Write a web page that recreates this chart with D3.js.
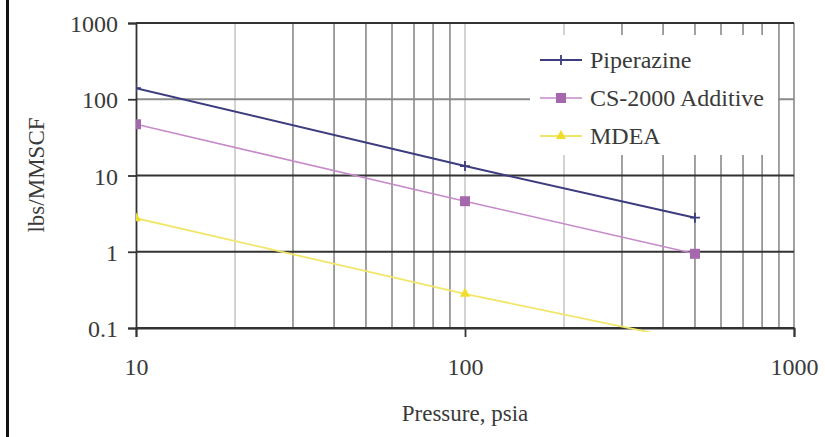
<!DOCTYPE html>
<html>
<head>
<meta charset="utf-8">
<script src="https://cdnjs.cloudflare.com/ajax/libs/d3/7.8.5/d3.min.js"></script>
<style>
  html, body { margin: 0; padding: 0; background: #fff; }
</style>
</head>
<body>
<svg id="chart" width="825" height="437"></svg>
<script>
// data
var pressure = [10, 100, 500];
var piperazine = [140, 13.3, 2.8];
var cs2000 = [47, 4.6, 0.94];
var mdea = [2.75, 0.28, 0.066];

var seriesNames = ['Piperazine', 'CS-2000 Additive', 'MDEA'];
var yTicks = [0.1, 1, 10, 100, 1000];
var xTicks = [10, 100, 1000];

var FONT = '"Liberation Serif", "Times New Roman", serif';
var TEXT = '#3a3a3a';

var svg = d3.select('#chart');

var x = d3.scaleLog().domain([10, 1000]).range([136, 794]);
var y = d3.scaleLog().domain([0.1, 1000]).range([328, 23]);

// frame line on the left of the page
svg.append('rect')
    .attr('x', 6).attr('y', 0)
    .attr('width', 3).attr('height', 437)
    .attr('fill', '#111');

var grid = svg.append('g').attr('class', 'grid');

// minor vertical grid (some came out faint in the scan)
var faint = [20, 100, 200];
var vTicks = x.ticks().filter(function(d){ return d > 10; });
grid.selectAll('line.v')
    .data(vTicks)
    .enter().append('line')
    .attr('class', 'v')
    .attr('x1', function(d){ return x(d); })
    .attr('x2', function(d){ return x(d); })
    .attr('y1', y(1000))
    .attr('y2', y(0.1))
    .style('stroke', function(d){ return faint.indexOf(d) >= 0 ? '#c8c8c8' : '#8a8a8a'; })
    .style('stroke-width', 1.6);

// horizontal grid at decades
grid.selectAll('line.h')
    .data(yTicks)
    .enter().append('line')
    .attr('class', 'h')
    .attr('x1', x(10))
    .attr('x2', x(1000))
    .attr('y1', function(d){ return y(d); })
    .attr('y2', function(d){ return y(d); })
    .style('stroke', function(d){ return d === 100 ? '#8a8a8a' : '#333'; })
    .style('stroke-width', 1.8);

// axes
var yAxis = d3.axisLeft(y)
    .tickValues(yTicks)
    .tickFormat(function(d){ return String(d); })
    .tickSize(8)
    .tickPadding(10);
var gy = svg.append('g')
    .attr('transform', 'translate(' + x(10) + ',0)')
    .call(yAxis);

var xAxis = d3.axisBottom(x)
    .tickValues(xTicks)
    .tickFormat(function(d){ return String(d); })
    .tickSize(9)
    .tickPadding(21);
var gx = svg.append('g')
    .attr('transform', 'translate(0,' + y(0.1) + ')')
    .call(xAxis);

[gx, gy].forEach(function(g){
    g.attr('font-family', null).attr('font-size', null);
    g.select('.domain').style('stroke', '#333').style('stroke-width', 1.8);
    g.selectAll('.tick line').style('stroke', '#333').style('stroke-width', 1.8);
    g.selectAll('.tick text')
        .style('font-family', FONT)
        .style('font-size', '24px')
        .style('fill', TEXT);
});
gy.selectAll('.tick text').attr('dy', '0.36em');

// axis titles
svg.append('text')
    .attr('x', x(100))
    .attr('y', 421)
    .attr('text-anchor', 'middle')
    .style('font-family', FONT)
    .style('font-size', '23px')
    .style('fill', TEXT)
    .text('Pressure, psia');

svg.append('text')
    .attr('transform', 'translate(44,' + 175 + ') rotate(-90)')
    .attr('text-anchor', 'middle')
    .style('font-family', FONT)
    .style('font-size', '23px')
    .style('fill', TEXT)
    .text('lbs/MMSCF');

// series
var series = [
    { name: seriesNames[0], values: piperazine, line: '#3c3c7e', width: 2, marker: 'cross', fill: '#3c3c7e' },
    { name: seriesNames[1], values: cs2000, line: '#c78acb', width: 1.6, marker: 'square', fill: '#a668ad' },
    { name: seriesNames[2], values: mdea, line: '#f2e66a', width: 1.8, marker: 'triangle', fill: '#f0dc2a' }
];

svg.append('clipPath').attr('id', 'plotclip')
    .append('rect')
    .attr('x', x(10)).attr('y', y(1000))
    .attr('width', x(1000) - x(10))
    .attr('height', y(0.1) - y(1000) + 4);

var line = d3.line()
    .x(function(d){ return x(d[0]); })
    .y(function(d){ return y(d[1]); });

function drawMarker(g, type, color) {
    if (type === 'cross') {
        g.append('path').attr('d', 'M-5,0H5M0,-5V5')
            .style('stroke', color).style('stroke-width', 1.8);
    } else if (type === 'square') {
        g.append('rect').attr('x', -5).attr('y', -5).attr('width', 10).attr('height', 10)
            .attr('fill', color);
    } else {
        g.append('path').attr('d', d3.symbol().type(d3.symbolTriangle).size(45)())
            .attr('fill', color);
    }
}

var plot = svg.append('g').attr('clip-path', 'url(#plotclip)');
series.forEach(function(s){
    var pts = pressure.map(function(p, i){ return [p, s.values[i]]; });
    plot.append('path')
        .datum(pts)
        .attr('d', line)
        .attr('fill', 'none')
        .style('stroke', s.line)
        .style('stroke-width', s.width);
    pts.forEach(function(p){
        var m = plot.append('g')
            .attr('transform', 'translate(' + x(p[0]) + ',' + y(p[1]) + ')');
        drawMarker(m, s.marker, s.fill);
    });
});

// legend
var legend = svg.append('g').attr('class', 'legend');
legend.append('rect')
    .attr('x', 530).attr('y', 35)
    .attr('width', 248).attr('height', 120)
    .attr('fill', '#fff');

series.forEach(function(s, i){
    var cy = 60 + i * 38;
    var row = legend.append('g');
    row.append('line')
        .attr('x1', 540).attr('x2', 582)
        .attr('y1', cy).attr('y2', cy)
        .style('stroke', s.line)
        .style('stroke-width', s.width);
    drawMarker(row.append('g').attr('transform', 'translate(561,' + cy + ')'), s.marker, s.fill);
    row.append('text')
        .attr('x', 590)
        .attr('y', cy)
        .attr('dy', '0.35em')
        .style('font-family', FONT)
        .style('font-size', '24px')
        .style('fill', TEXT)
        .text(s.name);
});
</script>
</body>
</html>
